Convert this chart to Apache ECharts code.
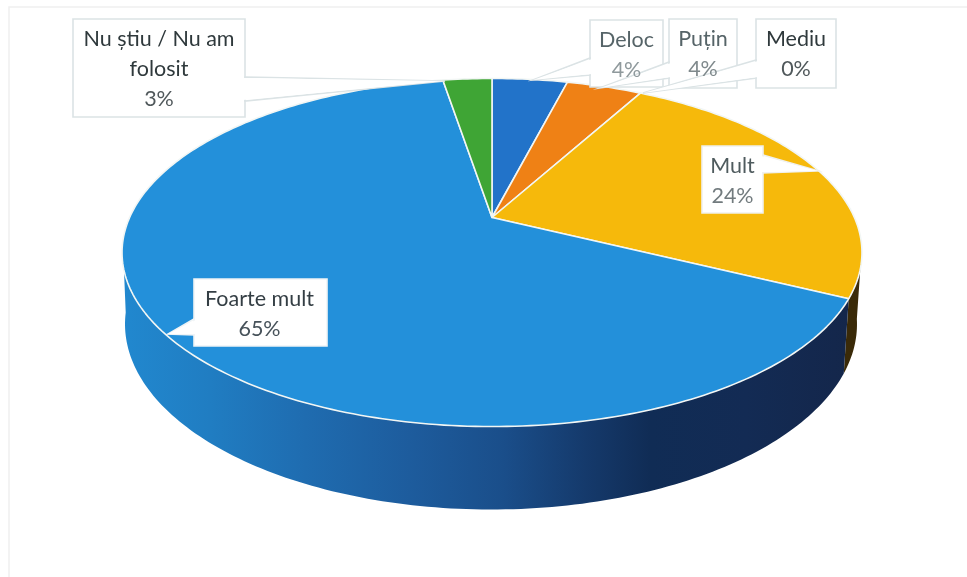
<!DOCTYPE html>
<html><head><meta charset="utf-8">
<style>html,body{margin:0;padding:0;background:#fff}#c{width:967px;height:577px}</style>
<script src="https://cdn.jsdelivr.net/npm/echarts@6/dist/echarts.min.js"></script>
</head><body><div id="c"></div>
<script>
// ---- data ----
const categories = ['Deloc', 'Puțin', 'Mediu', 'Mult', 'Foarte mult', 'Nu știu / Nu am folosit'];
const values = [4, 4, 0, 24.3, 65.1, 2.6];
const percentLabels = ['4%', '4%', '0%', '24%', '65%', '3%'];
// ---- styles ----
const topColors = ['#2273c9', '#ef8115', '#a5a5a5', '#f6b90b', '#2390da', '#3fa535'];
const chart = echarts.init(document.getElementById('c'));
const sideColors = [
  '#16416f', '#7a3d08', '#555555', '#3a2a08',
  new echarts.graphic.LinearGradient(122, 0, 856, 0, [
    {offset: 0, color: '#2188cf'}, {offset: 0.12, color: '#207dc2'}, {offset: 0.25, color: '#1f6cb0'},
    {offset: 0.4, color: '#1d5b9c'}, {offset: 0.52, color: '#1a4e8a'},
    {offset: 0.63, color: '#153a6c'}, {offset: 0.72, color: '#102c55'},
    {offset: 0.85, color: '#132b54'}, {offset: 1, color: '#14264a'}
  ], true),
  '#2c7a28'
];
// ---- layout: perspective projection of a circle, top and base of the disc ----
const topDisc = {cx: 492, y0: 217.5, A: 362.4, B: 167, q: 0.2012};
const baseDisc = {cx: 491, y0: 287, A: 358.6, B: 178, q: 0.2};
const project = (d, deg) => {
  const t = deg * Math.PI / 180, X = Math.sin(t), Z = -Math.cos(t), w = 1 - d.q * Z;
  return [d.cx + d.A * X / w, d.y0 + d.B * Z / w];
};
const arc = (d, a, b) => {
  const n = Math.max(2, Math.ceil(Math.abs(b - a))), pts = [];
  for (let i = 0; i <= n; i++) pts.push(project(d, a + (b - a) * i / n));
  return pts;
};
const total = values.reduce((s, v) => s + v, 0);
const angleRange = i => {
  const before = values.slice(0, i).reduce((s, v) => s + v, 0);
  return [before / total * 360, (before + values[i]) / total * 360];
};
// callouts: box [x, y, w, h], pointer [root1, tip, root2]
const calloutBoxes = [[590, 20, 73, 67], [669, 19, 68, 69], [756, 19, 80, 69], [702, 146, 61, 67], [194, 279, 133, 67], [73, 19, 172, 98]];
const calloutPointers = [
  [[590, 58], [533, 80], [590, 75]], [[669, 62], [600, 88], [669, 78]], [[756, 60], [643, 93], [756, 78]],
  [[763, 155], [818, 171], [763, 173]], [[194, 319], [168, 334], [194, 335]], [[245, 77], [445, 81], [245, 101]]
];
const pointerInset = [2, 2, 2, -2, 2, -2];
const borderColors = ['#dbe3e5', '#dbe3e5', '#dbe3e5', '#f0f1ee', '#f0f4f6', '#dbe3e5'];
const calloutLines = [['Deloc'], ['Puțin'], ['Mediu'], ['Mult'], ['Foarte mult'], ['Nu știu / Nu am', 'folosit']];
const textColors = ['#566468', '#566468', '#2f393c', '#4f5b5e', '#343e44', '#2f393c'];
const percentColors = ['#8f999c', '#7f898c', '#50585b', '#727b7e', '#47525a', '#50585b'];
const font = '21.5px Lato, "Noto Sans", sans-serif';

const renderWall = (params) => {
  const [a, b] = angleRange(params.dataIndex);
  const s = Math.max(a, 100), e = Math.min(b, 262);
  if (e <= s) return null;
  return {type: 'polygon', shape: {points: arc(topDisc, s, e).concat(arc(baseDisc, e, s))},
    style: {fill: sideColors[params.dataIndex]}};
};
const renderTop = (params) => {
  const i = params.dataIndex, [a, b] = angleRange(i);
  if (b - a <= 0) return null;
  return {type: 'polygon', shape: {points: [[topDisc.cx, topDisc.y0]].concat(arc(topDisc, a, b))},
    style: {fill: topColors[i], stroke: '#f2f6f4', lineWidth: 1.6, lineJoin: 'round'}};
};
const renderCallout = (params) => {
  const i = params.dataIndex, [x, y, w, h] = calloutBoxes[i], p = calloutPointers[i], d = pointerInset[i];
  const border = {stroke: borderColors[i], lineWidth: 1.6};
  return {type: 'group', children: [
    {type: 'rect', shape: {x, y, width: w, height: h}, style: Object.assign({fill: '#fff'}, border)},
    {type: 'polygon', shape: {points: p}, style: Object.assign({fill: '#fff'}, border)},
    {type: 'polygon', shape: {points: [[p[0][0] + d, p[0][1] + 1], p[1], [p[2][0] + d, p[2][1] - 1]]}, style: {fill: '#fff'}}
  ]};
};
const renderText = (params) => {
  const i = params.dataIndex, [x, y, w] = calloutBoxes[i];
  const lines = calloutLines[i].concat(percentLabels[i]);
  return {type: 'group', children: lines.map((t, k) => ({type: 'text', style: {
    text: t, x: x + w / 2 - (i === 4 ? 1 : 0), y: y + 20 + k * 30,
    textAlign: 'center', textVerticalAlign: 'middle', font,
    fill: k === lines.length - 1 ? percentColors[i] : textColors[i]}}))};
};
const seriesData = categories.map((name, i) => ({name, value: values[i]}));
chart.setOption({
  animation: false,
  backgroundColor: '#fff',
  graphic: [{type: 'rect', z: -1, shape: {x: 9, y: 7, width: 1000, height: 620}, style: {fill: 'none', stroke: '#f0f0f0', lineWidth: 1.5}}],
  series: [
    {type: 'custom', coordinateSystem: 'none', renderItem: renderWall, data: seriesData, z: 1, silent: true},
    {type: 'custom', coordinateSystem: 'none', renderItem: renderTop, data: seriesData, z: 2, silent: true},
    {type: 'custom', coordinateSystem: 'none', renderItem: renderCallout, data: seriesData, z: 3, silent: true},
    {type: 'custom', coordinateSystem: 'none', renderItem: renderText, data: seriesData, z: 4, silent: true}
  ]
});
</script></body></html>
